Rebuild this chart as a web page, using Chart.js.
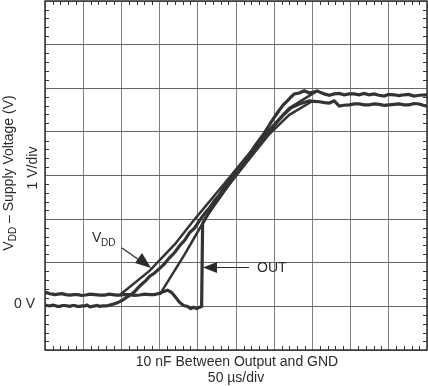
<!DOCTYPE html>
<html>
<head>
<meta charset="utf-8">
<script src="https://cdn.jsdelivr.net/npm/chart.js@4/dist/chart.umd.min.js"></script>
<style>
  body { margin: 0; background: #fff; }
  #wrap { width: 428px; height: 386px; }
</style>
</head>
<body>
<div id="wrap"><canvas id="scope" width="428" height="386"></canvas></div>
<script>
// scope screen: 50 us/div across, 1 V/div up
var xMin = 0, xMax = 500, xStep = 50;
var yMin = -1, yMax = 7, yStep = 1;

// VDD, noisy capture (starts at 0 V)
var vddNoisyT = [0, 3, 6.5, 10, 13.1, 16, 19.6, 23, 26.1, 29, 32.6, 36, 39.2, 42, 45.7, 49, 52.2, 55, 58.7, 62, 65.3, 68, 71.8, 76, 80.9, 85, 88.8, 93, 97.9, 102, 107.1, 112, 117.5, 122, 127.9, 132, 137.1, 143, 150.1, 156, 163.2, 170, 176.2, 183, 189.3, 196, 202.3, 209, 215.4, 222, 228.5, 235, 241.5, 248, 254.6, 261, 267.6, 274, 280.7, 287, 293.7, 300, 306.8, 312, 317.2, 322, 326.4, 332.9, 339.4, 346.0, 351, 356.4, 361, 365.5, 372, 378.6, 385, 391.7, 398, 404.7, 411, 417.8, 424, 430.8, 437, 443.9, 450, 456.9, 463, 470.0, 476, 483.0, 490, 500];
var vddNoisyV = [0.03, 0.02, 0.01, 0.03, 0.02, 0.0, 0.0, 0.02, 0.02, 0.01, 0.0, 0.02, 0.02, 0.0, 0.0, 0.01, 0.01, 0.03, -0.01, 0.0, 0.01, 0.02, 0.0, 0.01, 0.01, 0.03, 0.05, 0.07, 0.11, 0.15, 0.21, 0.26, 0.34, 0.43, 0.53, 0.59, 0.69, 0.76, 0.87, 0.97, 1.12, 1.24, 1.39, 1.52, 1.69, 1.80, 1.97, 2.13, 2.26, 2.43, 2.56, 2.74, 2.88, 3.01, 3.18, 3.31, 3.47, 3.66, 3.82, 3.97, 4.16, 4.33, 4.50, 4.62, 4.71, 4.80, 4.87, 4.89, 4.94, 4.89, 4.91, 4.94, 4.90, 4.87, 4.84, 4.87, 4.88, 4.85, 4.87, 4.87, 4.85, 4.88, 4.85, 4.87, 4.84, 4.82, 4.86, 4.85, 4.83, 4.85, 4.86, 4.82, 4.84, 4.85];

// VDD, clean ramp
var vddRampT = [97.9, 137.1, 169.7, 193.2, 238.9, 287.2, 319.8, 356.4];
var vddRampV = [0.26, 0.82, 1.42, 1.94, 2.90, 3.93, 4.55, 4.94];

// OUT, clean ramp
var outRampT = [150.1, 182.8, 211.5, 245.4, 293.7, 319.8, 348.6];
var outRampV = [0.27, 1.19, 2.06, 2.90, 3.95, 4.39, 4.69];

// OUT, noisy capture (switches on late)
var outNoisyT = [0, 3, 6.5, 10, 13.1, 17, 22.2, 27, 32.6, 38, 43.1, 48, 53.5, 59, 65.3, 72, 78.3, 84, 88.8, 93, 97.9, 104, 111.0, 117, 124.0, 130, 137.1, 143, 150.1, 155.4, 160.6, 165.8, 171.0, 176.2, 181.5, 186.7, 190.6, 194.5, 198.4, 202.3, 205.0, 206.3, 212.8, 221.9, 233, 245.4, 256, 267.6, 280, 293.7, 303, 313.3, 322, 332.9, 340, 346.0, 352, 359.0, 366, 372.1, 378.6, 385.1, 391, 398.2, 405, 411.2, 418, 424.3, 431, 437.3, 444, 450.4, 457, 463.5, 470, 476.5, 483, 489.6, 495, 500];
var outNoisyV = [0.32, 0.31, 0.29, 0.28, 0.27, 0.28, 0.29, 0.27, 0.26, 0.27, 0.27, 0.25, 0.26, 0.28, 0.27, 0.26, 0.26, 0.28, 0.27, 0.26, 0.26, 0.27, 0.27, 0.25, 0.26, 0.28, 0.27, 0.27, 0.30, 0.34, 0.37, 0.32, 0.21, 0.09, 0.02, 0, -0.05, -0.02, -0.05, -0.02, 0, 1.90, 2.10, 2.35, 2.62, 2.90, 3.14, 3.41, 3.70, 4.0, 4.21, 4.41, 4.55, 4.64, 4.68, 4.71, 4.70, 4.69, 4.67, 4.66, 4.71, 4.59, 4.61, 4.62, 4.64, 4.64, 4.62, 4.62, 4.64, 4.63, 4.61, 4.62, 4.63, 4.64, 4.62, 4.62, 4.65, 4.64, 4.61, 4.59];

function pts(t, v){
    var out = [];
    for (var i = 0; i < t.length; i++) out.push({x: t[i], y: v[i]});
    return out;
}

var FONT = '"Liberation Sans", Arial, sans-serif';
var INK = '#2b2b2b';

var scopeDecor = {
    id: 'scopeDecor',
    beforeDatasetsDraw: function(chart){
        var ctx = chart.ctx, a = chart.chartArea;
        var xs = chart.scales.x, ys = chart.scales.y;
        ctx.save();
        ctx.strokeStyle = '#333';
        ctx.lineWidth = 1;
        ctx.beginPath();
        // minor ticks, 5 per division, on all four edges
        for (var i = 1; i < 50; i++) {
            if (i % 5 == 0) continue;
            var px = Math.round(xs.getPixelForValue(xMin + i * 10)) + 0.5;
            ctx.moveTo(px, a.top); ctx.lineTo(px, a.top + 4);
            ctx.moveTo(px, a.bottom); ctx.lineTo(px, a.bottom - 4);
        }
        for (var j = 1; j < 40; j++) {
            if (j % 5 == 0) continue;
            var py = Math.round(ys.getPixelForValue(yMin + j * 0.2)) + 0.5;
            ctx.moveTo(a.left, py); ctx.lineTo(a.left + 4, py);
            ctx.moveTo(a.right, py); ctx.lineTo(a.right - 4, py);
        }
        ctx.stroke();
        ctx.lineWidth = 1.5;
        ctx.strokeRect(a.left, a.top, a.right - a.left, a.bottom - a.top);
        ctx.restore();
    },
    afterDatasetsDraw: function(chart){
        var ctx = chart.ctx;
        ctx.save();
        ctx.fillStyle = INK;
        ctx.strokeStyle = INK;

        // y axis title with subscript
        ctx.save();
        ctx.translate(9, 173);
        ctx.rotate(-Math.PI / 2);
        ctx.textBaseline = 'middle';
        ctx.font = '14px ' + FONT;
        var w1 = ctx.measureText('V').width;
        var w3 = ctx.measureText(' \u2013 Supply Voltage (V)').width;
        ctx.font = '10px ' + FONT;
        var w2 = ctx.measureText('DD').width;
        var x0 = -(w1 + w2 + w3) / 2;
        ctx.font = '14px ' + FONT;
        ctx.fillText('V', x0, 0);
        ctx.font = '10px ' + FONT;
        ctx.fillText('DD', x0 + w1, 4);
        ctx.font = '14px ' + FONT;
        ctx.fillText(' \u2013 Supply Voltage (V)', x0 + w1 + w2, 0);
        ctx.restore();

        ctx.save();
        ctx.translate(33, 168);
        ctx.rotate(-Math.PI / 2);
        ctx.textAlign = 'center';
        ctx.textBaseline = 'middle';
        ctx.font = '14px ' + FONT;
        ctx.fillText('1 V/div', 0, 0);
        ctx.restore();

        ctx.font = '14px ' + FONT;
        ctx.textBaseline = 'middle';
        ctx.textAlign = 'right';
        ctx.fillText('0 V', 35, 304);

        ctx.textAlign = 'center';
        ctx.fillText('10 nF Between Output and GND', 237, 362);
        ctx.fillText('50 \u00b5s/div', 236, 378);

        // VDD label + arrow
        ctx.textAlign = 'left';
        ctx.textBaseline = 'alphabetic';
        ctx.fillText('V', 92, 242);
        ctx.font = '10px ' + FONT;
        ctx.fillText('DD', 101, 246);
        ctx.lineWidth = 1.2;
        ctx.beginPath();
        ctx.moveTo(122, 248); ctx.lineTo(142, 262);
        ctx.stroke();
        ctx.beginPath();
        ctx.moveTo(151, 268); ctx.lineTo(135, 263); ctx.lineTo(142, 253);
        ctx.closePath(); ctx.fill();

        // OUT label + arrow
        ctx.font = '14px ' + FONT;
        ctx.textBaseline = 'middle';
        ctx.fillText('OUT', 257, 268);
        ctx.beginPath();
        ctx.moveTo(249, 267.5); ctx.lineTo(214, 267.5);
        ctx.stroke();
        ctx.beginPath();
        ctx.moveTo(203, 267.5); ctx.lineTo(217, 262); ctx.lineTo(217, 273);
        ctx.closePath(); ctx.fill();

        ctx.restore();
    }
};

function trace(data, w){
    return {
        data: data,
        borderColor: '#333',
        borderWidth: w,
        pointRadius: 0,
        tension: 0,
        fill: false
    };
}

new Chart('scope', {
    type: 'line',
    data: {
        datasets: [
            trace(pts(vddNoisyT, vddNoisyV), 3.2),
            trace(pts(vddRampT, vddRampV), 2.5),
            trace(pts(outRampT, outRampV), 2.5),
            trace(pts(outNoisyT, outNoisyV), 3.2)
        ]
    },
    options: {
        responsive: false,
        animation: false,
        layout: { padding: { left: 45, right: 1, top: 1, bottom: 36 } },
        plugins: { legend: { display: false }, tooltip: { enabled: false } },
        scales: {
            x: {
                type: 'linear', min: xMin, max: xMax,
                ticks: { display: false, stepSize: xStep },
                grid: { color: '#7d7d7d', lineWidth: 1, drawTicks: false },
                border: { display: false }
            },
            y: {
                type: 'linear', min: yMin, max: yMax,
                ticks: { display: false, stepSize: yStep },
                grid: { color: '#666', lineWidth: 1, drawTicks: false },
                border: { display: false }
            }
        }
    },
    plugins: [scopeDecor]
});
</script>
</body>
</html>
